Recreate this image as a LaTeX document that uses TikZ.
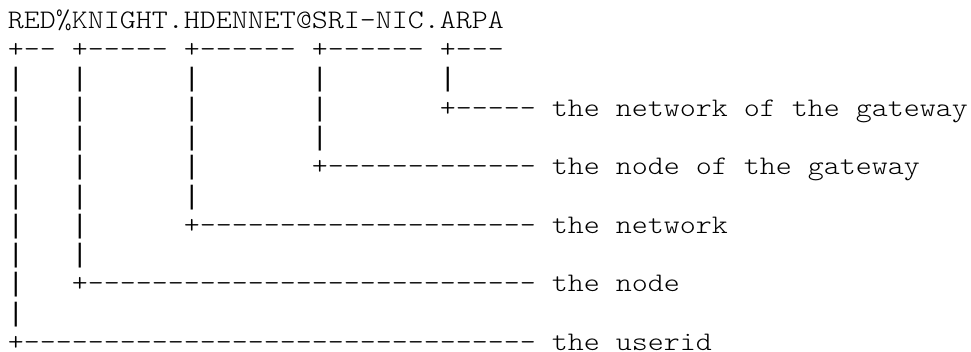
\documentclass[tikz,border=0pt]{standalone}
\usepackage{fontspec}
\setmonofont{Latin Modern Mono Light}[FakeStretch=1.137]
\newfontfamily\barfont{Liberation Mono}
\newcommand\vb{{\barfont\fontsize{13.33pt}{14.65pt}\selectfont|}}
\usepackage{tikz}

\begin{document}
\begin{tikzpicture}[x=8pt,y=14.65pt]
\tikzstyle{every node} = [anchor=base west, inner sep=0pt, text depth=0pt, font=\ttfamily\fontsize{13.4pt}{14.65pt}\selectfont]
\useasboundingbox (-3.75pt,14.15pt) rectangle (481.75pt,-161.85pt);
\node (addr) at (0,0) {RED\%KNIGHT.HDENNET@SRI-NIC.ARPA};
\node (marks) at (0,-1) {+--~+-----~+------~+------~+---};
\node (r2) at (0,-2) {\vb~~~\vb~~~~~~\vb~~~~~~~\vb~~~~~~~\vb};
\node (r3) at (0,-3) {\vb~~~\vb~~~~~~\vb~~~~~~~\vb~~~~~~~+-----};
\node (r4) at (0,-4) {\vb~~~\vb~~~~~~\vb~~~~~~~\vb};
\node (r5) at (0,-5) {\vb~~~\vb~~~~~~\vb~~~~~~~+-------------};
\node (r6) at (0,-6) {\vb~~~\vb~~~~~~\vb};
\node (r7) at (0,-7) {\vb~~~\vb~~~~~~+---------------------};
\node (r8) at (0,-8) {\vb~~~\vb};
\node (r9) at (0,-9) {\vb~~~+----------------------------};
\node (r10) at (0,-10) {\vb};
\node (r11) at (0,-11) {+--------------------------------};
\node (GWNET) at (34,-3) {the network of the gateway};
\node (GWNODE) at (34,-5) {the node of the gateway};
\node (NET) at (34,-7) {the network};
\node (NODE) at (34,-9) {the node};
\node (USER) at (34,-11) {the userid};
\end{tikzpicture}
\end{document}
